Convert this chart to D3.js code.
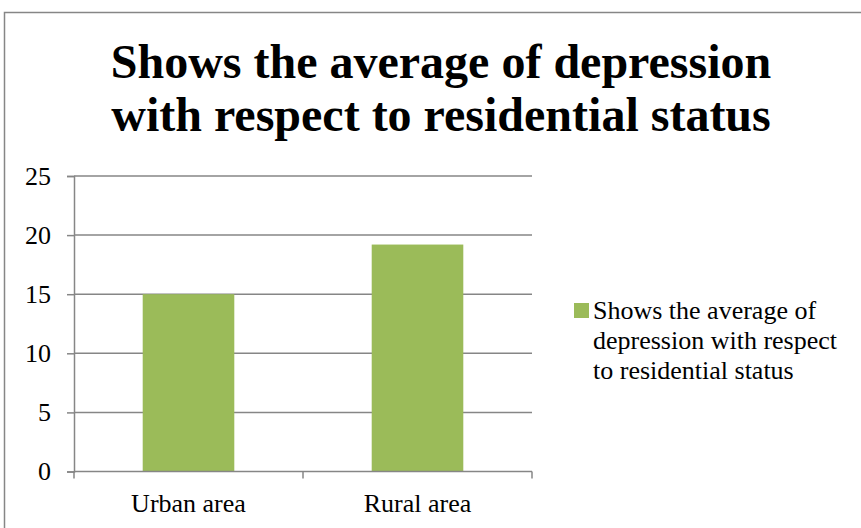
<!DOCTYPE html>
<html>
<head>
<meta charset="utf-8">
<script src="https://cdn.jsdelivr.net/npm/d3@7"></script>
<style>
  body { margin: 0; background: #fff; }
  svg { display: block; }
  svg text { font-family: "Liberation Serif", "Times New Roman", serif; }
</style>
</head>
<body>
<div id="chart"></div>
<script>
var categories = ["Urban area", "Rural area"];
var values = [15, 19.2];
var yTicks = [0, 5, 10, 15, 20, 25];
var titleLines = ["Shows the average of depression", "with respect to residential status"];
var legendLines = ["Shows the average of", "depression with respect", "to residential status"];

var svgWidth = 861;
var svgHeight = 528;

var margin = { top: 176, left: 74, right: 329, bottom: 56.5 };
var chartWidth = svgWidth - margin.left - margin.right;
var chartHeight = svgHeight - margin.top - margin.bottom;

var font = "'Liberation Serif', 'Times New Roman', serif";
var gray = "#868686";
var green = "#9bbb59";

var svg = d3.select("#chart")
  .append("svg")
  .attr("width", svgWidth)
  .attr("height", svgHeight);

// outer frame (right and bottom edges fall outside the picture)
svg.append("rect")
  .attr("x", 4.5)
  .attr("y", 12.5)
  .attr("width", 900)
  .attr("height", 600)
  .attr("fill", "none")
  .attr("stroke", gray)
  .attr("stroke-width", 1.5);

// title
svg.append("g")
  .selectAll("text")
  .data(titleLines)
  .enter()
  .append("text")
  .attr("x", 441)
  .attr("y", (d, i) => 78 + i * 53)
  .attr("text-anchor", "middle")
  .style("font-family", font)
  .attr("font-weight", "bold")
  .attr("font-size", "48px")
  .attr("fill", "#000")
  .text(d => d);

var chartGroup = svg.append("g")
  .attr("transform", `translate(${margin.left}, ${margin.top})`);

var xScale = d3.scaleBand()
  .domain(categories)
  .range([0, chartWidth])
  .paddingInner(0.6)
  .paddingOuter(0.3);

var yScale = d3.scaleLinear()
  .domain([0, 25])
  .range([chartHeight, 0]);

// gridlines
chartGroup.append("g")
  .selectAll("line")
  .data(yTicks.filter(d => d > 0))
  .enter()
  .append("line")
  .attr("x1", 0)
  .attr("x2", chartWidth)
  .attr("y1", d => yScale(d))
  .attr("y2", d => yScale(d))
  .attr("stroke", gray)
  .attr("stroke-width", 1.5);

// bars
chartGroup.selectAll("rect")
  .data(values)
  .enter()
  .append("rect")
  .attr("x", (d, i) => xScale(categories[i]))
  .attr("y", d => yScale(d))
  .attr("width", xScale.bandwidth())
  .attr("height", d => chartHeight - yScale(d))
  .attr("fill", green);

// y axis
var yAxis = chartGroup.append("g")
  .call(d3.axisLeft(yScale).tickValues(yTicks).tickSize(7).tickPadding(16));
yAxis.attr("font-family", null);
yAxis.select(".domain").attr("stroke", gray).attr("stroke-width", 1.5);
yAxis.selectAll(".tick line").attr("stroke", gray).attr("stroke-width", 1.5);
yAxis.selectAll(".tick text")
  .style("font-family", font)
  .attr("font-size", "26px")
  .attr("fill", "#000");

// x axis: ticks sit on the category boundaries
var xAxisGroup = chartGroup.append("g")
  .attr("transform", `translate(0, ${chartHeight})`);
xAxisGroup.append("line")
  .attr("x1", 0)
  .attr("x2", chartWidth)
  .attr("stroke", gray)
  .attr("stroke-width", 1.5);
var step = chartWidth / categories.length;
xAxisGroup.selectAll(".sep")
  .data(d3.range(categories.length + 1))
  .enter()
  .append("line")
  .attr("class", "sep")
  .attr("x1", d => d * step)
  .attr("x2", d => d * step)
  .attr("y1", 0)
  .attr("y2", 7)
  .attr("stroke", gray)
  .attr("stroke-width", 1.5);
xAxisGroup.selectAll(".lbl")
  .data(categories)
  .enter()
  .append("text")
  .attr("class", "lbl")
  .attr("x", d => xScale(d) + xScale.bandwidth() / 2)
  .attr("y", 40)
  .attr("text-anchor", "middle")
  .style("font-family", font)
  .attr("font-size", "26px")
  .attr("fill", "#000")
  .text(d => d);

// legend
var legend = svg.append("g");
legend.append("rect")
  .attr("x", 574)
  .attr("y", 303)
  .attr("width", 15)
  .attr("height", 15)
  .attr("fill", green);
legend.selectAll("text")
  .data(legendLines)
  .enter()
  .append("text")
  .attr("x", 593)
  .attr("y", (d, i) => 319 + i * 30)
  .style("font-family", font)
  .attr("font-size", "26px")
  .attr("fill", "#000")
  .text(d => d);
</script>
</body>
</html>
